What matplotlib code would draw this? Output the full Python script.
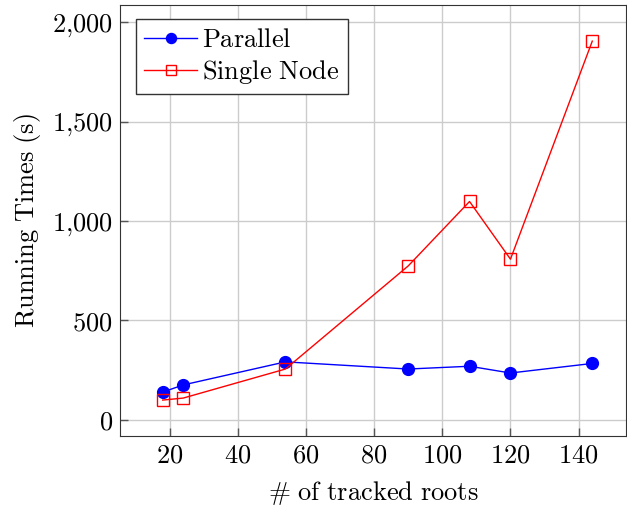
import matplotlib
matplotlib.use("Agg")
import matplotlib.pyplot as plt
from matplotlib.ticker import FuncFormatter

plt.rcParams['mathtext.fontset'] = 'cm'
plt.rcParams['font.family'] = 'serif'
plt.rcParams['font.serif'] = ['DejaVu Serif']

roots = [18, 24, 54, 90, 108, 120, 144]
parallel = [140, 176, 292, 256, 270, 236, 284]
single = [100, 110, 256, 774, 1098, 808, 1904]

fig = plt.figure(figsize=(6.27, 5.11), dpi=100)
ax = fig.add_axes([0.191, 0.147, 0.808, 0.843])

ax.plot(roots, parallel, color='blue', lw=1, marker='o', ms=8.5,
        label=r'$\mathrm{Parallel}$')
ax.plot(roots, single, color='red', lw=1, marker='s', ms=8.5, mfc='none',
        label=r'$\mathrm{Single\ Node}$')

ax.set_xlim(5.4, 154)
ax.set_ylim(-80, 2085)
ax.set_xticks([20, 40, 60, 80, 100, 120, 140])
ax.set_yticks([0, 500, 1000, 1500, 2000])
ax.xaxis.set_major_formatter(FuncFormatter(lambda v, p: r'$%d$' % v))
ax.yaxis.set_major_formatter(
    FuncFormatter(lambda v, p: r'$%s$' % ('{:,}'.format(int(v)).replace(',', '{,}'))))
ax.tick_params(direction='in', length=6, width=1, color='#555555', labelsize=19, pad=5)
ax.grid(True, color='#cccccc', lw=1)
ax.set_axisbelow(True)
for s in ax.spines.values():
    s.set_color('#333333')

ax.set_xlabel(r'$\#\ \mathrm{of\ tracked\ roots}$', fontsize=19, labelpad=8)
ax.set_ylabel(r'$\mathrm{Running\ Times\ (s)}$', fontsize=19, labelpad=6)

leg = ax.legend(loc='upper left', bbox_to_anchor=(0.033, 0.968), borderaxespad=0,
                fontsize=19, fancybox=False, edgecolor='#333333',
                framealpha=1, handlelength=2.0,
                borderpad=0.3, labelspacing=0.25, handletextpad=0.2,
                markerscale=0.85)
leg.get_frame().set_linewidth(1)

fig.savefig('out.png', dpi=100)
